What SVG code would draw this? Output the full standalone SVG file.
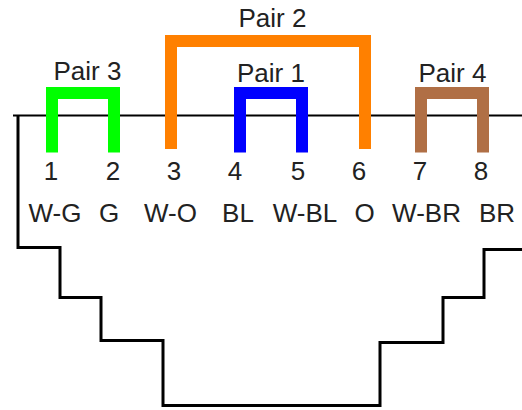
<svg xmlns="http://www.w3.org/2000/svg" width="522" height="410" viewBox="0 0 522 410">
<style>
text{font-family:"Liberation Sans",Arial,sans-serif;font-size:26px;fill:#222;text-anchor:middle}
.pair{fill:none;stroke-width:12;stroke-linejoin:miter}
.outline{fill:none;stroke:#000;stroke-width:3}
</style>
<rect width="522" height="410" fill="#fff"/>
<g id="connectors">
<path class="outline" style="stroke-width:2" d="M13 115.500H522"/>
<path class="outline" d="M18 115V247.500H60V297.500H101V340.500H163V405.500H380V342.500H443V297.500H484V249.500H522"/>
</g>
<g id="pair3"><path class="pair" stroke="#00ff00" d="M52 152.500V93H114V152.500"/><text x="87.500" y="80">Pair 3</text></g>
<g id="pair2"><path class="pair" stroke="#ff8000" d="M171 149V41H365V149"/><text x="272.500" y="27">Pair 2</text></g>
<g id="pair1"><path class="pair" stroke="#0000ff" d="M240 152.500V93H302V152.500"/><text x="271" y="82">Pair 1</text></g>
<g id="pair4"><path class="pair" stroke="#b06f45" d="M421 152.500V93H483V152.500"/><text x="452.500" y="82">Pair 4</text></g>
<g id="pin1"><text x="51" y="180">1</text><text x="55" y="222">W-G</text></g>
<g id="pin2"><text x="113" y="180">2</text><text x="109" y="222">G</text></g>
<g id="pin3"><text x="174" y="180">3</text><text x="170.500" y="222">W-O</text></g>
<g id="pin4"><text x="235" y="180">4</text><text x="238" y="222">BL</text></g>
<g id="pin5"><text x="298" y="180">5</text><text x="305" y="222">W-BL</text></g>
<g id="pin6"><text x="359" y="180">6</text><text x="364.500" y="222">O</text></g>
<g id="pin7"><text x="420" y="180">7</text><text x="426.500" y="222">W-BR</text></g>
<g id="pin8"><text x="481" y="180">8</text><text x="497" y="222">BR</text></g>
</svg>
